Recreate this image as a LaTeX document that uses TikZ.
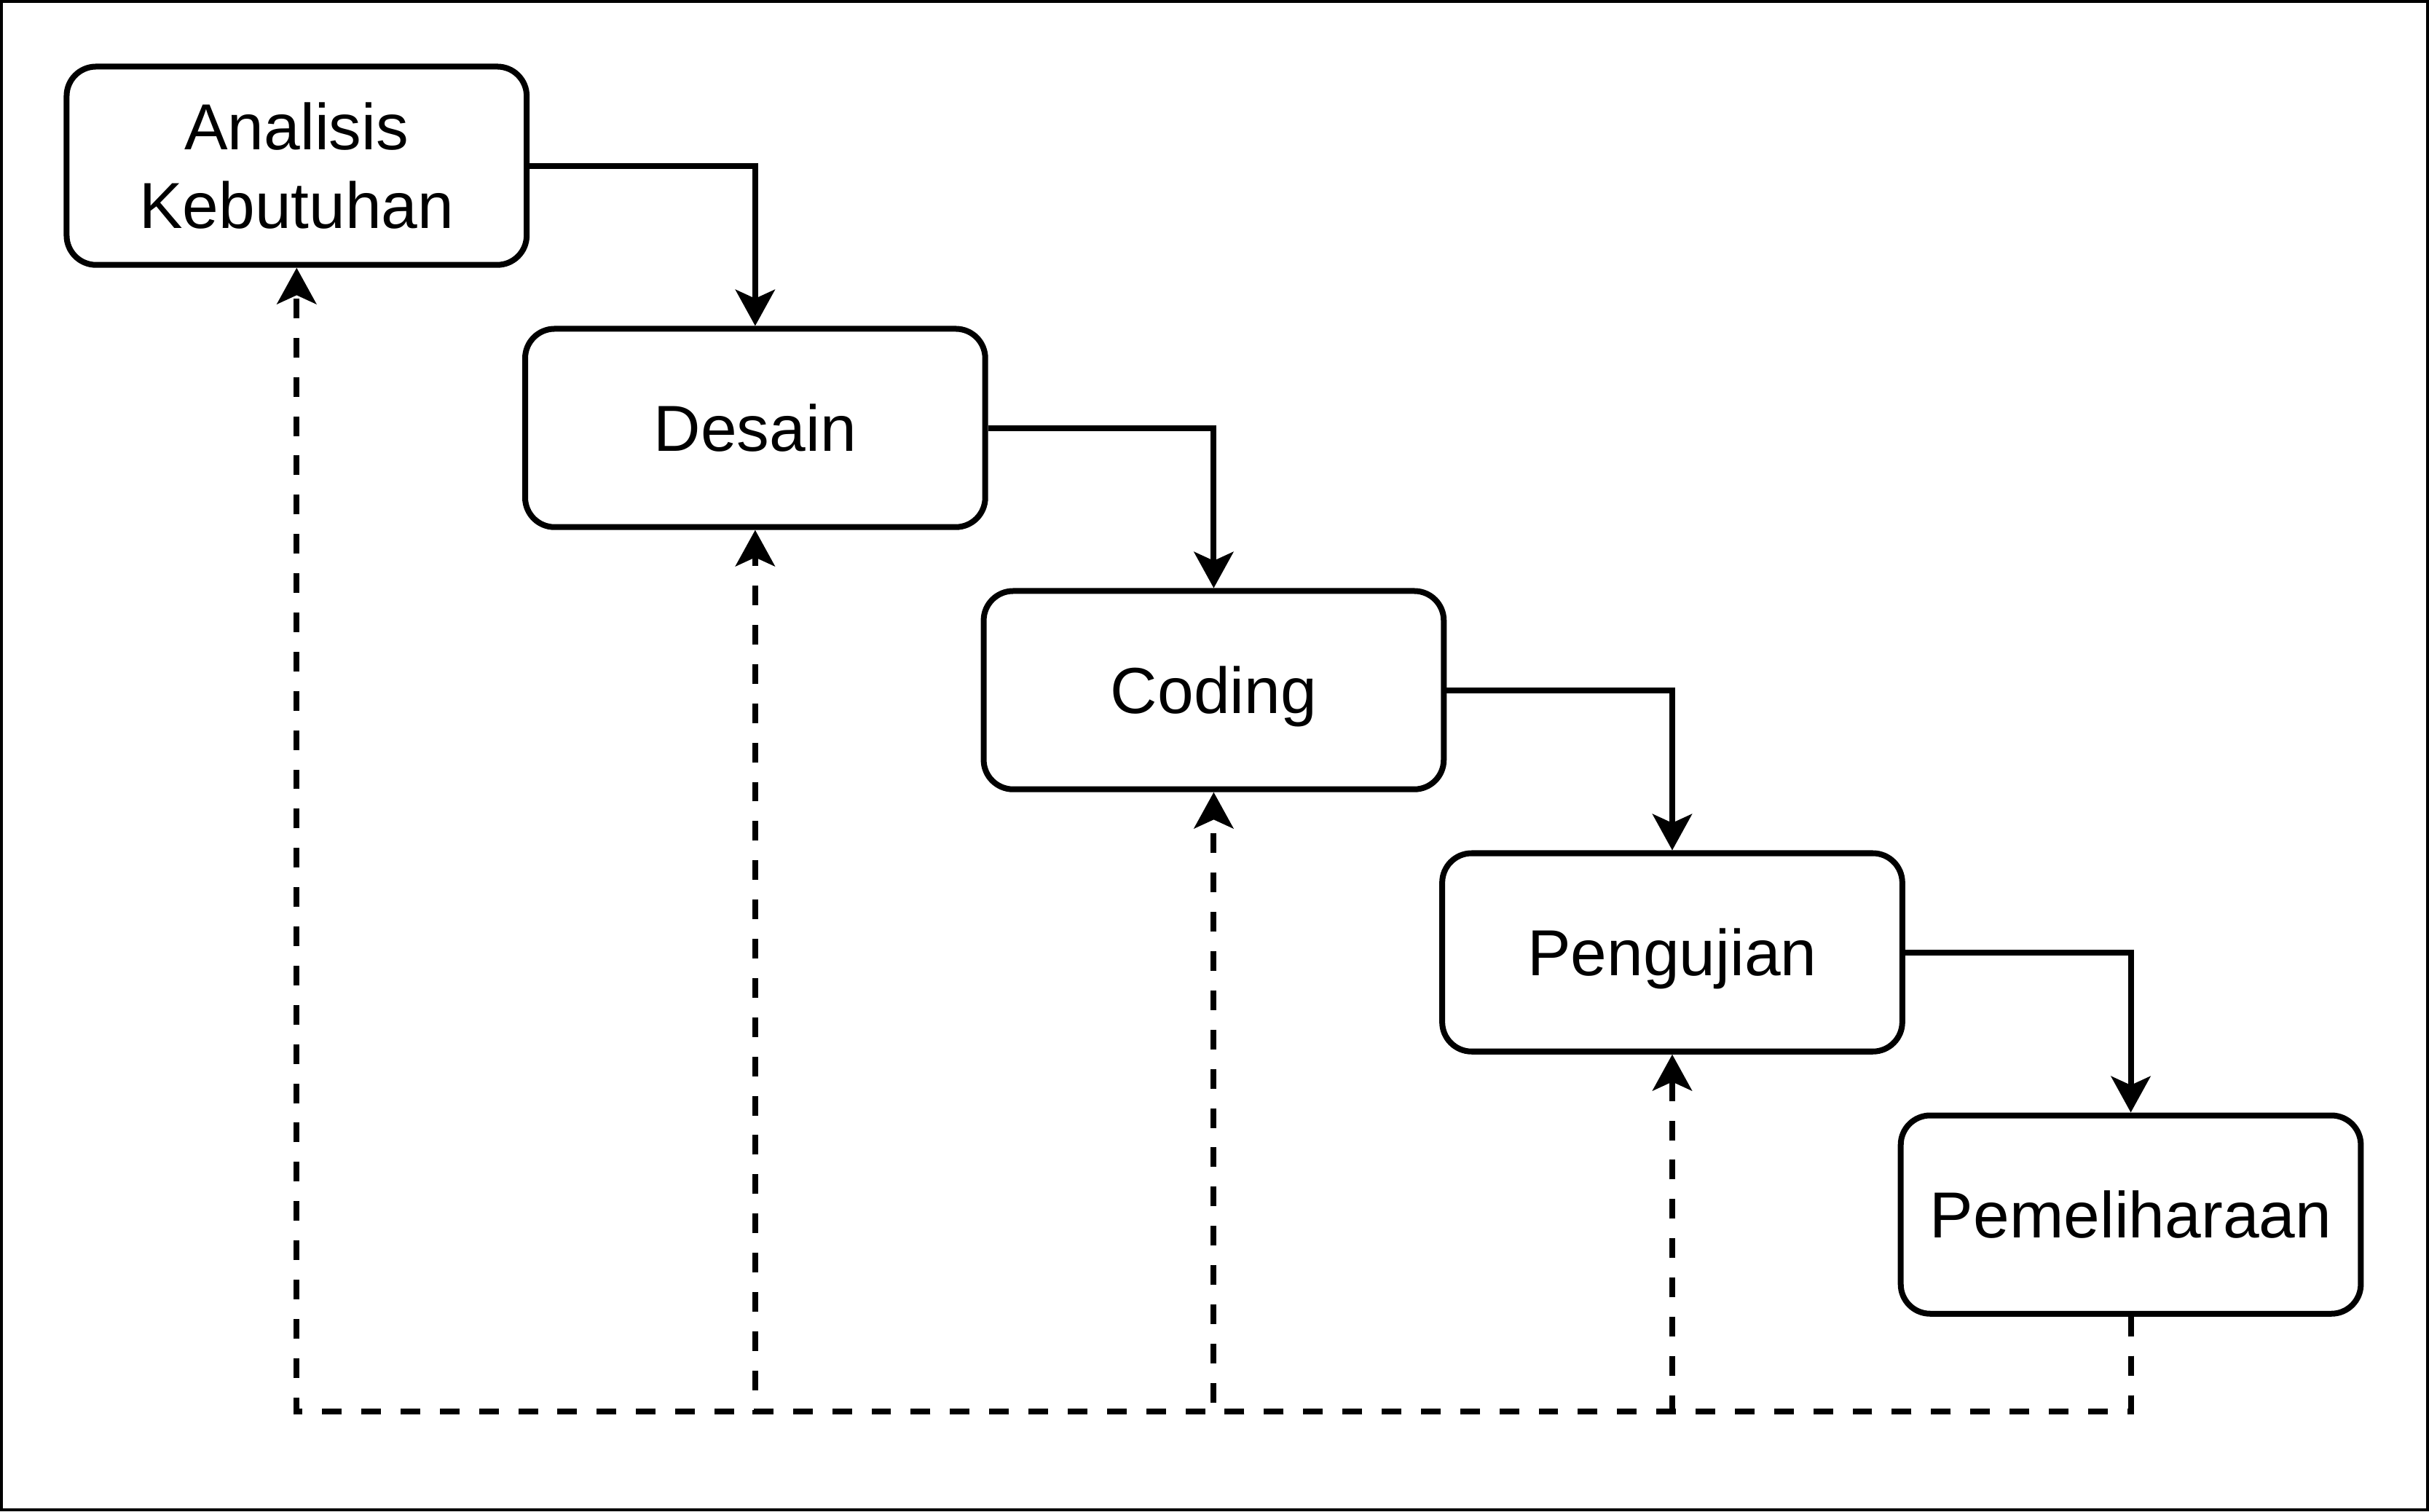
\documentclass[tikz,border=0pt]{standalone}
\usepackage{fontspec}
\setmainfont{Liberation Sans}
\usetikzlibrary{chains, positioning, arrows.meta}

\begin{document}
\begin{tikzpicture}[
    x = 0.3pt, y = -0.3pt,
    node distance = 11.25pt and -1.43pt,
    start chain = going below right,
    flow/.style = {
        -{Stealth[length=7pt, width=7.6pt, inset=1.7pt]}, line width=1.13pt,
        to path={-| (\tikztotarget)}
    },
    back/.style = {flow, dash pattern=on 3.8pt off 3.8pt},
    phase/.style = {
        draw, rounded corners=5.7pt, line width=1.13pt,
        minimum width=89.1pt, minimum height=38.4pt,
        align=center, font=\fontsize{12.6}{15.1}\selectfont,
        text height=9pt, text depth=0pt,
        on chain, join=by flow
    }
  ]
    \useasboundingbox (0,0) rectangle (1568,975.6);
    \draw[line width=0.6pt] (1,1) rectangle (1567,974.6);  % bingkai
    \node[phase, text height={}, text depth={}] (p1) at (191.5,107) {Analisis\\Kebutuhan};  % tahap 1
    \node[phase] (p2) {Desain};
    \node[phase] (p3) {Coding};
    \node[phase] (p4) {Pengujian};
    \node[phase] (p5) {Pemeliharaan};  % tahap terakhir
    \coordinate (bus) at (0,911);
    % garis balik putus-putus
    \foreach \i in {1,...,4}
        \draw[back] (p5.south) -- (p5.south |- bus) -| (p\i.south);
\end{tikzpicture}
\end{document}
